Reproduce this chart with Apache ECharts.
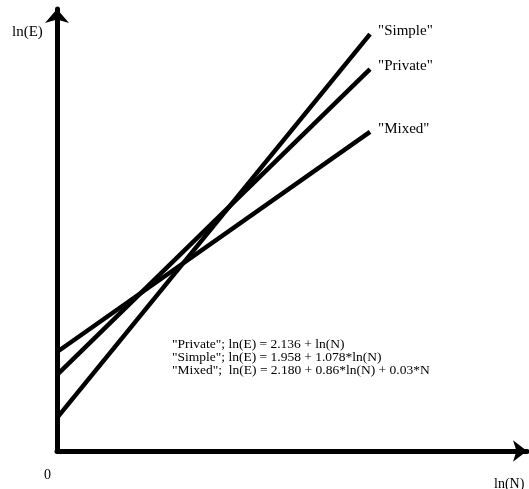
<!DOCTYPE html>
<html>
<head>
<meta charset="utf-8">
<script src="https://cdn.jsdelivr.net/npm/echarts@6/dist/echarts.min.js"></script>
<style>
  html, body { margin: 0; padding: 0; background: #fff; }
  #chart { width: 529px; height: 489px; }
</style>
</head>
<body>
<div id="chart"></div>
<script>
// schematic lines: two end points each, in 0-100 units of ln(N) and ln(E)
var xPoints = [0, 66.6];
var simpleVals = [7.5, 94.3];
var privateVals = [17.2, 86.4];
var mixedVals = [22.4, 72.2];
var seriesNames = ['"Simple"', '"Private"', '"Mixed"'];
var equations = [
  '"Private"; ln(E) = 2.136 + ln(N)',
  '"Simple"; ln(E) = 1.958 + 1.078*ln(N)',
  '"Mixed";  ln(E) = 2.180 + 0.86*ln(N) + 0.03*N'
];

var chartDom = document.getElementById('chart');
var myChart = echarts.init(chartDom);
var font = 'Liberation Serif, Times New Roman, serif';

function pairs(vals) {
  return xPoints.map(function (x, i) { return [x, vals[i]]; });
}

function lineSeries(name, vals) {
  return {
    name: name,
    type: 'line',
    data: pairs(vals),
    symbol: 'none',
    silent: true,
    lineStyle: { color: '#000', width: 4.5 },
    endLabel: {
      show: true,
      formatter: name,
      distance: 8,
      offset: [0, -3],
      fontFamily: font,
      fontSize: 15,
      color: '#000'
    }
  };
}

var option = {
  animation: false,
  backgroundColor: '#fff',
  grid: { left: 57, right: 2, top: 9, bottom: 38 },
  xAxis: {
    type: 'value',
    min: 0,
    max: 100,
    axisLine: {
      lineStyle: { color: '#000', width: 5 },
      symbol: ['none', 'arrow'],
      symbolSize: [16, 14]
    },
    axisTick: { show: false },
    axisLabel: { show: false },
    splitLine: { show: false }
  },
  yAxis: {
    type: 'value',
    min: 0,
    max: 100,
    axisLine: {
      show: true,
      lineStyle: { color: '#000', width: 5 },
      symbol: ['none', 'arrow'],
      symbolSize: [18, 14]
    },
    axisTick: { show: false },
    axisLabel: { show: false },
    splitLine: { show: false }
  },
  graphic: [
    { type: 'text', left: 12, top: 25, style: { text: 'ln(E)', font: '15px ' + font, fill: '#000' } },
    { type: 'text', left: 44, top: 468, style: { text: '0', font: '14px ' + font, fill: '#000' } },
    { type: 'text', left: 494, top: 477, style: { text: 'ln(N)', font: '14px ' + font, fill: '#000' } },
    { type: 'text', left: 172, top: 337, style: { text: equations.join('\n'), font: '13.5px ' + font, fill: '#000', lineHeight: 13 } }
  ],
  series: [
    lineSeries(seriesNames[0], simpleVals),
    lineSeries(seriesNames[1], privateVals),
    lineSeries(seriesNames[2], mixedVals)
  ]
};

option && myChart.setOption(option);
</script>
</body>
</html>
